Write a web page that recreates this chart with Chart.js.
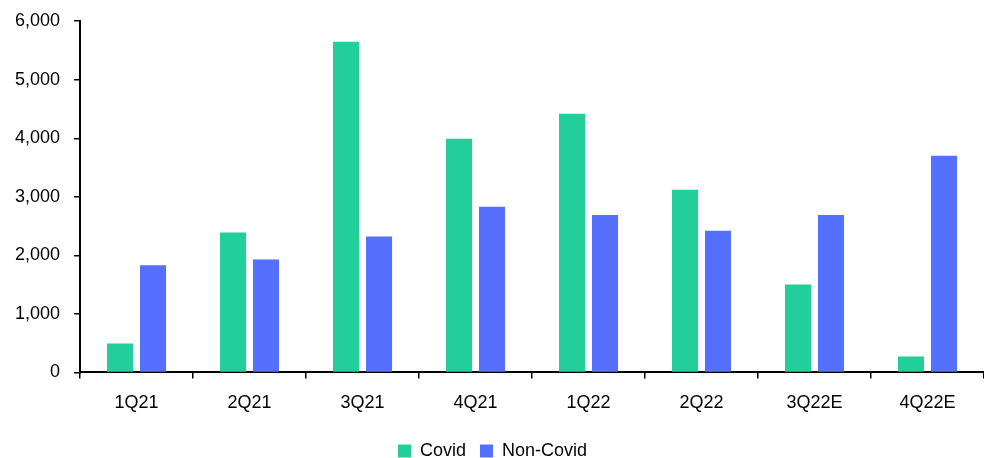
<!DOCTYPE html>
<html>
<head>
<meta charset="utf-8">
<script src="https://cdn.jsdelivr.net/npm/chart.js@4"></script>
<style>
  html, body { margin: 0; padding: 0; background: #fff; }
  #wrap { width: 984px; height: 458px; }
</style>
</head>
<body>
<div id="wrap"><canvas id="graph"></canvas></div>
<script>
const quarters = ["1Q21", "2Q21", "3Q21", "4Q21", "1Q22", "2Q22", "3Q22E", "4Q22E"];
const covid = [495, 2390, 5650, 3990, 4420, 3120, 1500, 270];
const nonCovid = [1830, 1930, 2320, 2830, 2690, 2420, 2690, 3700];

const fontFam = "'Liberation Sans', 'DejaVu Sans', sans-serif";
Chart.defaults.font.family = fontFam;
Chart.defaults.font.size = 18;
Chart.defaults.color = "#000";

const graph = document.getElementById("graph").getContext("2d");
const myChart = new Chart(graph, {
  type: "bar",
  data: {
    labels: quarters,
    datasets: [{
      label: "Covid",
      data: covid,
      backgroundColor: "#22CE99",
      categoryPercentage: 0.584,
      barPercentage: 0.79
    }, {
      label: "Non-Covid",
      data: nonCovid,
      backgroundColor: "#5570FF",
      categoryPercentage: 0.584,
      barPercentage: 0.79
    }]
  },
  options: {
    responsive: true,
    maintainAspectRatio: false,
    animation: false,
    layout: { padding: { top: 0, right: 0, left: 1, bottom: -12 } },
    plugins: {
      tooltip: { enabled: false },
      legend: {
        position: "bottom",
        labels: {
          boxWidth: 13,
          boxHeight: 13,
          padding: 14,
          font: { size: 18 }
        }
      }
    },
    scales: {
      x: {
        grid: {
          drawOnChartArea: false,
          drawTicks: true,
          tickLength: 6,
          color: "#000",
          lineWidth: 1.5
        },
        border: { color: "#000", width: 2 },
        ticks: { padding: 14, maxRotation: 0 }
      },
      y: {
        min: 0,
        max: 6000,
        grid: {
          drawOnChartArea: false,
          drawTicks: true,
          tickLength: 6,
          color: "#000",
          lineWidth: 1.5
        },
        border: { color: "#000", width: 2 },
        ticks: {
          stepSize: 1000,
          padding: 14,
          font: { size: 18, lineHeight: 0.8 },
          callback: v => v.toLocaleString("en-US")
        }
      }
    }
  }
});
</script>
</body>
</html>
